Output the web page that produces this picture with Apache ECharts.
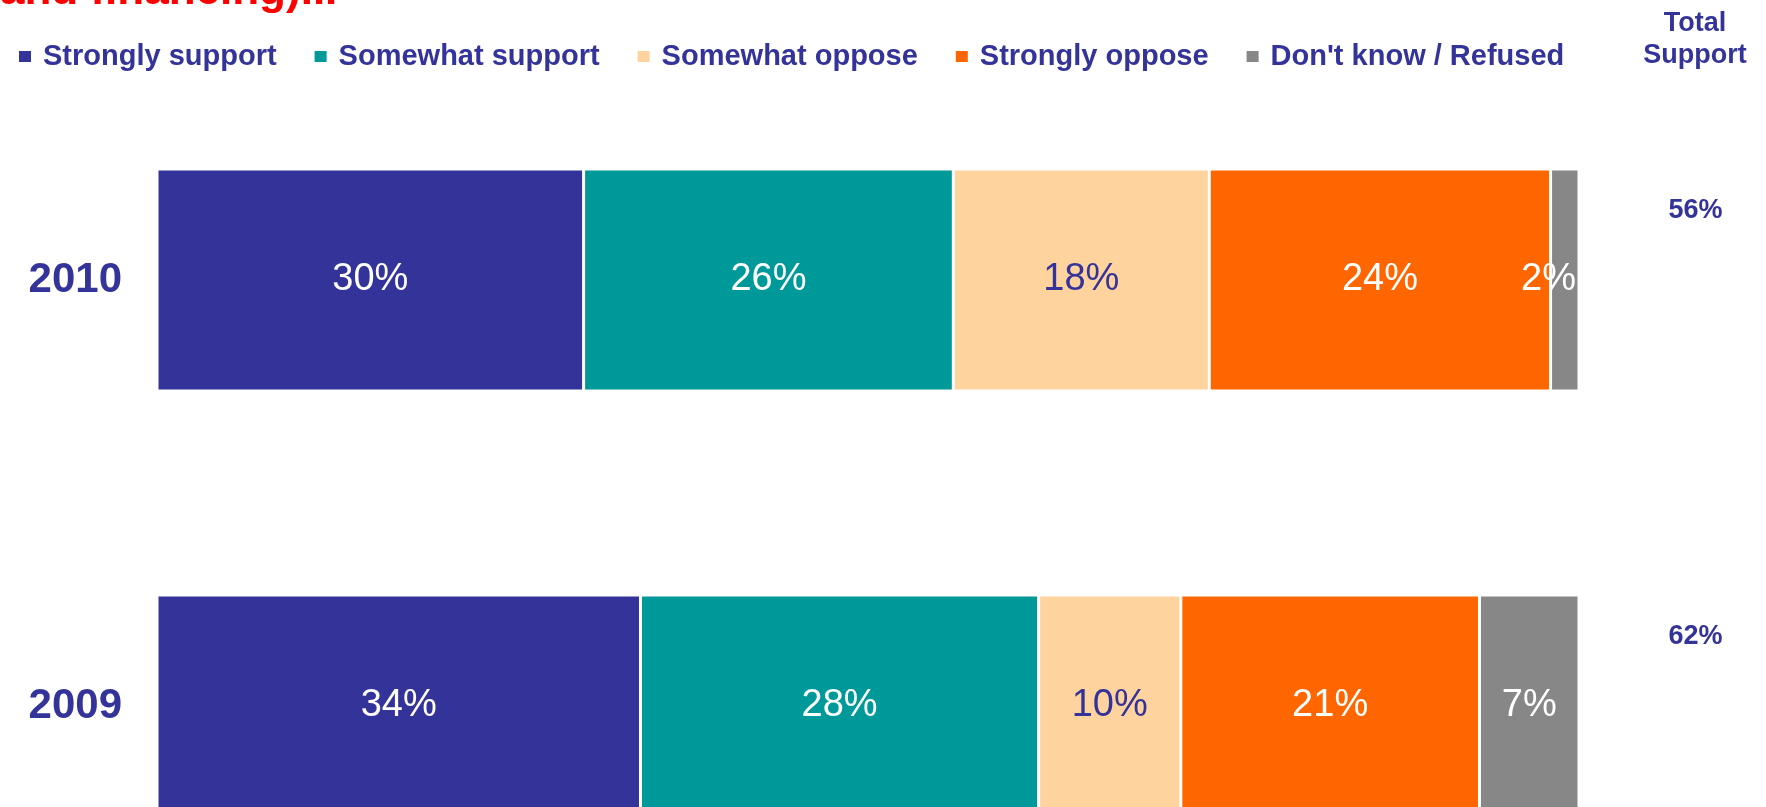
<!DOCTYPE html>
<html>
<head>
<meta charset="utf-8">
<title>Support / oppose 2010 vs 2009</title>
<script src="https://cdn.jsdelivr.net/npm/echarts@6/dist/echarts.min.js"></script>
<style>
    html, body { margin: 0; padding: 0; background: #fff; }
    #main { width: 1766px; height: 807px; }
</style>
</head>
<body>
<div id="main"></div>
<script>
// 数据
var years = ['2010', '2009'];
var seriesNames = ['Strongly support', 'Somewhat support', 'Somewhat oppose', 'Strongly oppose', "Don't know / Refused"];
var stronglySupport = [30, 34];
var somewhatSupport = [26, 28];
var somewhatOppose = [18, 10];
var stronglyOppose = [24, 21];
var dontKnow = [2, 7];
var totalSupport = [56, 62];

var colors = ['#333399', '#009999', '#FFD39E', '#FF6600', '#878787'];
var labelColors = ['#fff', '#fff', '#333399', '#fff', '#fff'];
var navy = '#333399';
var font = 'Liberation Sans, Arial, sans-serif';

var values = [stronglySupport, somewhatSupport, somewhatOppose, stronglyOppose, dontKnow];

var series = [];
for (var i = 0; i < values.length; i++) {
    var items = [];
    for (var j = 0; j < values[i].length; j++) {
        var item = { value: values[i][j] };
        // tiny segment: label pushed to the right edge
        if (values[i][j] < 5) {
            item.label = { position: 'insideRight', distance: 3 };
        }
        items.push(item);
    }
    series.push({
        name: seriesNames[i],
        type: 'bar',
        stack: 'total',
        barWidth: 222,
        data: items,
        itemStyle: { color: colors[i], borderColor: '#fff', borderWidth: 1.5 },
        label: {
            show: true,
            position: 'inside',
            formatter: '{c}%',
            color: labelColors[i],
            fontFamily: font,
            fontSize: 38
        },
        emphasis: { disabled: true }
    });
}

// Total Support column, placed right of the bars
var totalData = [];
for (var k = 0; k < years.length; k++) {
    totalData.push([108.2, years[k], totalSupport[k]]);
}
series.push({
    name: 'Total Support',
    type: 'scatter',
    clip: false,
    silent: true,
    symbolSize: 1,
    itemStyle: { color: 'rgba(0,0,0,0)', opacity: 1 },
    data: totalData,
    label: {
        show: true,
        position: 'inside',
        offset: [0, -69],
        formatter: function (p) { return p.value[2] + '%'; },
        color: navy,
        fontFamily: font,
        fontWeight: 'bold',
        fontSize: 27
    },
    emphasis: { disabled: true }
});

var chart = echarts.init(document.getElementById('main'));

var option = {
    animation: false,
    backgroundColor: '#fff',
    graphic: [
        {
            type: 'text',
            left: 0,
            top: -30,
            style: {
                text: 'and financing)...',
                fill: '#FF0000',
                font: 'bold 44px ' + font
            }
        },
        {
            type: 'text',
            x: 1695,
            y: 40,
            style: {
                text: 'Total\nSupport',
                fill: navy,
                font: 'bold 27px ' + font,
                align: 'center',
                verticalAlign: 'middle',
                lineHeight: 32
            }
        }
    ],
    legend: {
        data: seriesNames,
        left: 12,
        top: 37,
        icon: 'rect',
        itemWidth: 14,
        itemHeight: 13,
        itemGap: 36,
        selectedMode: false,
        textStyle: {
            color: navy,
            fontFamily: font,
            fontWeight: 'bold',
            fontSize: 29,
            padding: [0, 0, 0, 6]
        }
    },
    grid: {
        left: 157,
        right: 187,
        top: 67,
        height: 852,
        outerBoundsMode: 'none',
        containLabel: false
    },
    xAxis: {
        type: 'value',
        min: 0,
        max: 100,
        show: false
    },
    yAxis: {
        type: 'category',
        data: years,
        inverse: true,
        axisLine: { show: false },
        axisTick: { show: false },
        splitLine: { show: false },
        axisLabel: {
            margin: 35,
            color: navy,
            fontFamily: font,
            fontWeight: 'bold',
            fontSize: 42
        }
    },
    series: series
};

chart.setOption(option);
</script>
</body>
</html>
